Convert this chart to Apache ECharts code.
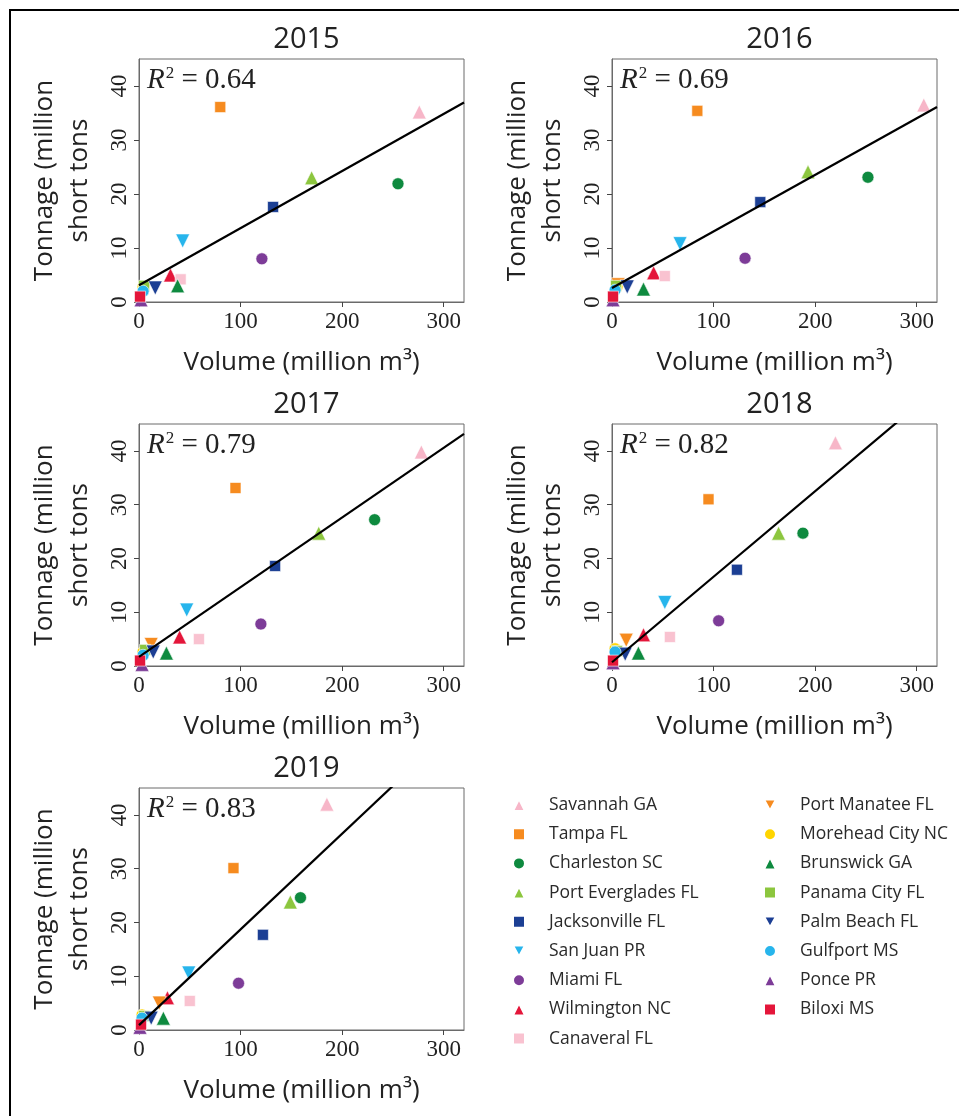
<!DOCTYPE html>
<html>
<head>
<meta charset="utf-8">
<script src="https://cdn.jsdelivr.net/npm/echarts@6/dist/echarts.min.js"></script>
<style>
html, body { margin: 0; padding: 0; background: #fff; }
#main { width: 959px; height: 1116px; }
</style>
</head>
<body>
<div id="main"></div>
<script>
// ports, in legend order
const ports = ['Savannah GA', 'Tampa FL', 'Charleston SC', 'Port Everglades FL', 'Jacksonville FL',
    'San Juan PR', 'Miami FL', 'Wilmington NC', 'Canaveral FL', 'Port Manatee FL', 'Morehead City NC',
    'Brunswick GA', 'Panama City FL', 'Palm Beach FL', 'Gulfport MS', 'Ponce PR', 'Biloxi MS'];
const markers = ['up', 'square', 'circle', 'up', 'square', 'down', 'circle', 'up', 'square',
    'down', 'circle', 'up', 'square', 'down', 'circle', 'up', 'square'];
const colors = ['#f7b6c8', '#f68b1f', '#0e8a3f', '#8cc63e', '#1c3f94', '#27b5ec', '#7d3c98', '#e4163a', '#f9c2d0',
    '#f68b1f', '#ffd500', '#0e8a3f', '#8cc63e', '#1c3f94', '#27b5ec', '#7d3c98', '#e4163a'];

const years = ['2015', '2016', '2017', '2018', '2019'];

// volume (million m3) and tonnage (million short tons), same port order
const vol2015 = [276, 80, 255, 170, 132, 43, 121, 31, 41, 6, 4, 38, 5, 16, 4, 2, 1];
const ton2015 = [35.2, 36.1, 21.9, 23.0, 17.6, 11.3, 8.0, 5.0, 4.2, 2.5, 2.8, 3.0, 3.0, 2.6, 2.0, 0.4, 1.0];
const vol2016 = [307, 84, 252, 193, 146, 67, 131, 41, 52, 6, 5, 31, 4, 15, 3, 1, 1];
const ton2016 = [36.5, 35.4, 23.1, 24.1, 18.5, 10.8, 8.1, 5.4, 4.8, 3.2, 2.8, 2.4, 3.0, 2.8, 2.2, 0.4, 1.0];
const vol2017 = [278, 95, 232, 177, 134, 47, 120, 40, 59, 12, 4, 27, 6, 14, 4, 3, 1];
const ton2017 = [39.8, 33.1, 27.2, 24.7, 18.6, 10.4, 7.8, 5.4, 5.0, 4.0, 2.6, 2.4, 3.0, 2.6, 2.0, 0.3, 1.0];
const vol2018 = [220, 95, 188, 164, 123, 52, 105, 31, 57, 14, 3, 26, 5, 13, 3, 1, 1];
const ton2018 = [41.5, 31.0, 24.7, 24.7, 17.9, 11.8, 8.4, 5.8, 5.4, 4.8, 3.2, 2.4, 2.8, 2.2, 2.6, 0.6, 1.0];
const vol2019 = [185, 93, 159, 149, 122, 49, 98, 28, 50, 20, 3, 24, 5, 12, 3, 1, 2];
const ton2019 = [42.0, 30.1, 24.6, 23.8, 17.7, 10.6, 8.7, 6.0, 5.4, 5.0, 2.8, 2.2, 2.6, 2.2, 2.2, 0.5, 1.0];

// fitted line per year
const intercepts = [3.1, 2.6, 1.7, 0.7, 0.9];
const slopes = [0.1058, 0.1047, 0.1296, 0.159, 0.178];
const r2 = ['0.64', '0.69', '0.79', '0.82', '0.83'];

const xTicks = [0, 100, 200, 300];
const yTicks = [0, 10, 20, 30, 40];
const xMax = 320, yMax = 45;

const volumes = [vol2015, vol2016, vol2017, vol2018, vol2019];
const tonnages = [ton2015, ton2016, ton2017, ton2018, ton2019];

// layout of the 5 panels
const boxes = [
    {left: 139, top: 59, width: 325, height: 243},
    {left: 612, top: 59, width: 325, height: 243},
    {left: 139, top: 424, width: 325, height: 242},
    {left: 612, top: 424, width: 325, height: 242},
    {left: 139, top: 788, width: 325, height: 242}
];

const sans = 'Open Sans';
const serif = 'Liberation Serif';
const spine = '#6a6a6a';
const downTri = 'path://M0,0L10,0L5,9Z';

function symbolOf(m) {
    if (m === 'up') return 'triangle';
    if (m === 'down') return downTri;
    if (m === 'square') return 'rect';
    return 'circle';
}
function sizeOf(m) {
    if (m === 'square') return 11;
    if (m === 'circle') return 12;
    return 14;
}

let grids = [], xAxes = [], yAxes = [], series = [], titles = [];

boxes.forEach(function (b, i) {
    grids.push({left: b.left, top: b.top, width: b.width, height: b.height,
        show: true, borderColor: spine, borderWidth: 1, backgroundColor: 'transparent'});
    xAxes.push({
        type: 'value', gridIndex: i, min: 0, max: xMax,
        axisLine: {show: true, onZero: false, lineStyle: {color: spine}},
        axisTick: {show: true, length: 5, customValues: xTicks, lineStyle: {color: '#444'}},
        axisLabel: {customValues: xTicks, margin: 8, fontFamily: serif, fontSize: 23, color: '#222'},
        splitLine: {show: false},
        name: 'Volume (million m³)', nameLocation: 'middle', nameGap: 48,
        nameTextStyle: {fontFamily: sans, fontSize: 26, color: '#222'}
    });
    yAxes.push({
        type: 'value', gridIndex: i, min: 0, max: yMax,
        axisLine: {show: true, onZero: false, lineStyle: {color: spine}},
        axisTick: {show: true, length: 5, customValues: yTicks, lineStyle: {color: '#444'}},
        axisLabel: {customValues: yTicks, rotate: 90, margin: 8, fontFamily: serif, fontSize: 23, color: '#222'},
        splitLine: {show: false},
        name: 'Tonnage (million\nshort tons', nameLocation: 'middle', nameGap: 42, nameRotate: 90,
        nameTextStyle: {fontFamily: sans, fontSize: 26, color: '#222', lineHeight: 35}
    });
    titles.push({
        text: years[i], left: b.left + b.width / 2, top: b.top - 39, textAlign: 'center',
        textStyle: {fontFamily: sans, fontSize: 29, fontWeight: 'normal', color: '#222'}
    });
    titles.push({
        text: '{r|R}{s|2}{n| = ' + r2[i] + '}', left: b.left + 3, top: b.top + 1,
        textStyle: {
            fontWeight: 'normal',
            rich: {
                r: {fontFamily: serif, fontStyle: 'italic', fontWeight: 'normal', fontSize: 29, color: '#222'},
                s: {fontFamily: serif, fontWeight: 'normal', fontSize: 17, color: '#222', verticalAlign: 'top', padding: [0, 0, 13, 1]},
                n: {fontFamily: serif, fontWeight: 'normal', fontSize: 29, color: '#222'}
            }
        }
    });
    ports.forEach(function (p, j) {
        series.push({
            type: 'scatter', name: p, xAxisIndex: i, yAxisIndex: i,
            data: [[volumes[i][j], tonnages[i][j]]],
            symbol: symbolOf(markers[j]), symbolSize: sizeOf(markers[j]),
            itemStyle: {color: colors[j], borderColor: '#fff', borderWidth: 0.6, opacity: 1},
            z: 2, silent: true
        });
    });
    series.push({
        type: 'line', xAxisIndex: i, yAxisIndex: i, z: 4, silent: true,
        data: [[0, intercepts[i]], [xMax, intercepts[i] + slopes[i] * xMax]],
        symbol: 'none', lineStyle: {color: '#000', width: 2.2}, clip: true
    });
});

function legendData(list) {
    return list.map(function (p) {
        const j = ports.indexOf(p);
        return {name: p, icon: symbolOf(markers[j])};
    });
}
const legendStyle = {
    orient: 'vertical', itemWidth: 12, itemHeight: 12, itemGap: 11.2,
    selectedMode: false,
    textStyle: {fontFamily: sans, fontSize: 17.5, color: '#2a2a2a', padding: [0, 0, 0, 19]}
};

let chart = echarts.init(document.getElementById('main'));
chart.setOption({
    animation: false,
    backgroundColor: '#fff',
    title: titles,
    grid: grids,
    xAxis: xAxes,
    yAxis: yAxes,
    legend: [
        Object.assign({left: 507, top: 791, data: legendData(ports.slice(0, 9))}, legendStyle),
        Object.assign({left: 758, top: 791, data: legendData(ports.slice(9))}, legendStyle)
    ],
    graphic: [{
        type: 'rect', silent: true, z: 100,
        shape: {x: 10, y: 10, width: 1200, height: 1300},
        style: {fill: 'none', stroke: '#000', lineWidth: 2}
    }],
    series: series
});
</script>
</body>
</html>
